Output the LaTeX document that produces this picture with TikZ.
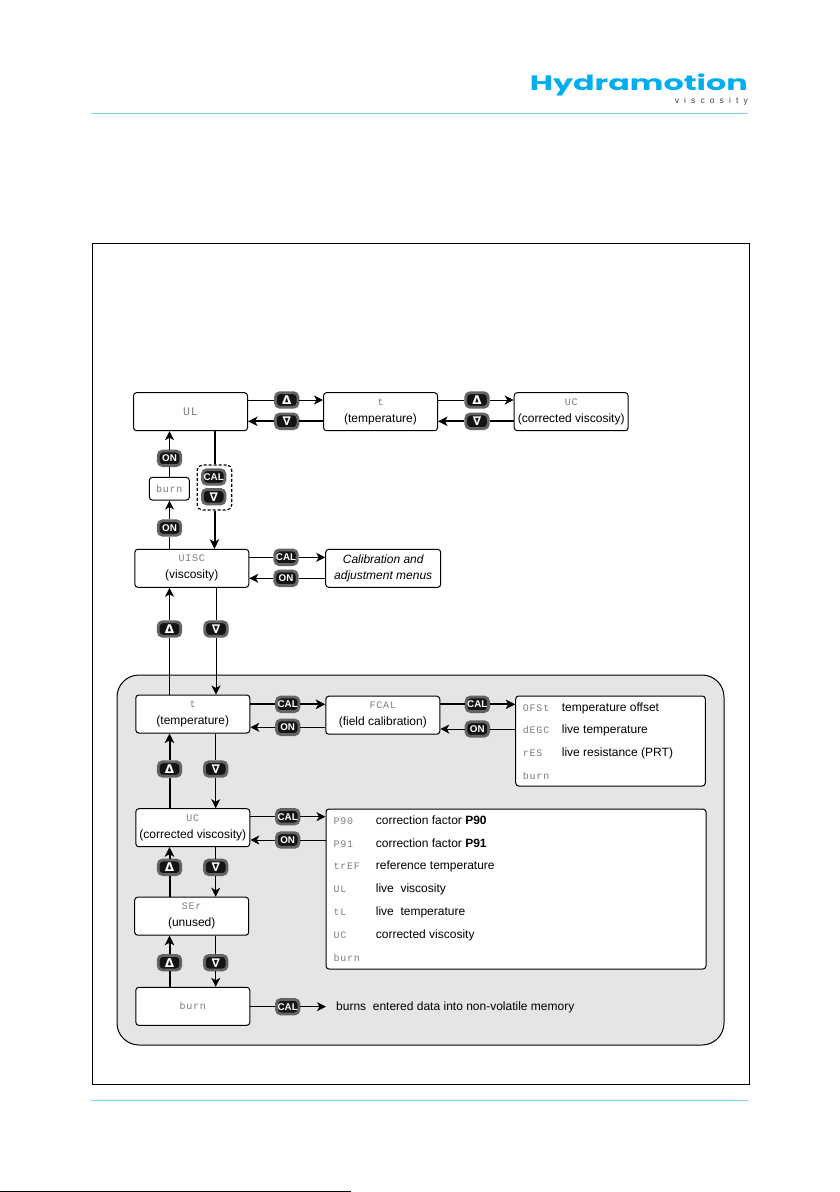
\documentclass[tikz,border=0pt]{standalone}
\usepackage{fontspec}
\setmainfont{Liberation Sans}
\newfontfamily\lcdfont[LetterSpace=8]{Liberation Mono}
\newfontfamily\symfont{DejaVu Sans}
\newfontfamily\logofont{Poppins}
\newfontfamily\subfont[LetterSpace=60]{Liberation Sans}
\usepackage{xcolor}
\usetikzlibrary{arrows.meta}
\definecolor{hydrablue}{RGB}{0,174,239}
\definecolor{rulecol}{RGB}{125,212,246}
\definecolor{panelgray}{RGB}{230,229,228}
\definecolor{lcdgray}{RGB}{125,125,125}
\definecolor{btnring}{RGB}{100,100,100}
\newcommand{\lcd}[1]{{\lcdfont\fontsize{10}{10}\selectfont\color{lcdgray}#1}}
\newcommand{\lcdbig}[1]{{\lcdfont\fontsize{11.5}{11.5}\selectfont\color{lcdgray}#1}}
\newcommand{\tup}{{\symfont\bfseries\fontsize{12}{12}\selectfont Δ}}
\newcommand{\tdown}{{\symfont\bfseries\fontsize{12}{12}\selectfont ∇}}

\begin{document}
\begin{tikzpicture}[x=1pt,y=1pt]
    \tikzstyle{every node}=[font=\fontsize{12}{17}\selectfont,inner sep=0pt]
    \tikzstyle{dispbox}=[draw=black,fill=white,line width=1pt,rounded corners=3pt,align=center,minimum width=114pt,minimum height=38pt]
    \tikzstyle{btn}=[draw=btnring,fill=black!92,line width=2.8pt,rounded corners=4.5pt,text=white,minimum width=22.6pt,minimum height=14.6pt,font=\fontsize{9.8}{9.8}\selectfont\bfseries]
    \tikzstyle{rowtext}=[anchor=west,text height=10.5pt,text depth=2.5pt]
    \tikzstyle{lite}=[line width=1pt,-{Stealth[length=9pt,width=9pt,inset=2.5pt]}]
    \tikzstyle{heavy}=[line width=2pt,-{Stealth[length=9.5pt,width=9.5pt,inset=2.5pt]}]
    \tikzstyle{liteplain}=[line width=1pt]
    \tikzstyle{heavyplain}=[line width=2pt]
    \useasboundingbox (0,0) rectangle (840,-1192);
    \fill [white] (0,0) rectangle (840,-1192);
    \node (logo) at (748,-90) [anchor=base east,text=hydrablue] {\resizebox{218pt}{16.7pt}{\logofont\bfseries Hydramotion}};
    \node (logosub) at (748,-103) [anchor=base east,text=black!75,font=\fontsize{8.5}{8.5}\selectfont] {\subfont viscosity};
    \draw [rulecol,line width=1.6pt] (91,-113.5) -- (748,-113.5);
    \draw [rulecol,line width=1.6pt] (91,-1100.5) -- (748,-1100.5);
    \draw [black,line width=1.3pt] (0,-1191.5) -- (351,-1191.5);
    \node (frame) at (421,-663.5) [draw=black,line width=1pt,minimum width=657pt,minimum height=841pt] {};
    \node (panel) at (420.5,-860) [draw=black,fill=panelgray,line width=1pt,rounded corners=22pt,minimum width=607pt,minimum height=370pt] {};

    \node (ul) at (190.5,-411.7) [dispbox] {\lcdbig{UL}};
    \node (ttop) at (380.5,-411.7) [dispbox] {\lcd{t}\\(temperature)};
    \node (uctop) at (571.2,-411.7) [dispbox] {\lcd{UC}\\(corrected viscosity)};
    \node (burntop) at (169.3,-488.7) [dispbox,minimum width=40pt,minimum height=22.7pt] {\lcd{burn}};
    \node (uisc) at (191.8,-568.3) [dispbox] {\lcd{UISC}\\(viscosity)};
    \node (calmenu) at (383.2,-568.3) [dispbox,font=\fontsize{12}{15.5}\selectfont\itshape,minimum width=115pt] {Calibration and\\adjustment menus};
    \node (tmid) at (192.8,-714) [dispbox] {\lcd{t}\\(temperature)};
    \node (fcal) at (382.8,-715.2) [dispbox] {\lcd{FCAL}\\(field calibration)};
    \node (ucmid) at (192.8,-827.7) [dispbox] {\lcd{UC}\\(corrected viscosity)};
    \node (ser) at (191.7,-916.2) [dispbox] {\lcd{SEr}\\(unused)};
    \node (burnlow) at (192.8,-1006.3) [dispbox] {\lcd{burn}};
    \node (offlist) at (610.5,-741) [dispbox,minimum width=189.6pt,minimum height=90pt] {};
    \node (corrlist) at (516,-889) [dispbox,minimum width=380pt,minimum height=160pt] {};
    \node (calgroup) at (214.5,-487.5) [draw=black,fill=white,line width=1.2pt,densely dashed,rounded corners=5pt,minimum width=34.4pt,minimum height=45pt] {};

    \node (upa) at (286.7,-400) [btn] {\tup};
    \node (downa) at (286.7,-421.3) [btn] {\tdown};
    \node (upb) at (477,-400) [btn] {\tup};
    \node (downb) at (477,-421.3) [btn] {\tdown};
    \node (ona) at (169.5,-458.3) [btn] {ON};
    \node (onb) at (169.5,-528) [btn] {ON};
    \node (calg) at (213.7,-477) [btn] {CAL};
    \node (downg) at (213.7,-496.7) [btn] {\tdown};
    \node (calc) at (286,-557.3) [btn] {CAL};
    \node (onc) at (286,-578.3) [btn] {ON};
    \node (upd) at (169.5,-629) [btn] {\tup};
    \node (downd) at (216,-629) [btn] {\tdown};
    \node (cale) at (287.7,-704.3) [btn] {CAL};
    \node (one) at (287.7,-727.3) [btn] {ON};
    \node (calf) at (477.3,-704.3) [btn] {CAL};
    \node (onf) at (477.3,-729) [btn] {ON};
    \node (upg) at (169.5,-769) [btn] {\tup};
    \node (downh) at (215.7,-769) [btn] {\tdown};
    \node (cali) at (287.7,-816.7) [btn] {CAL};
    \node (oni) at (287.7,-840) [btn] {ON};
    \node (upj) at (169.5,-867.3) [btn] {\tup};
    \node (downj) at (215.7,-867.3) [btn] {\tdown};
    \node (upk) at (169.5,-962.7) [btn] {\tup};
    \node (downk) at (215.7,-962.7) [btn] {\tdown};
    \node (call) at (287.7,-1006.7) [btn] {CAL};
    \node (burnsend) at (336,-1006.4) [rowtext] {burns\ \ entered data into non-volatile memory};
    \coordinate (burnstip) at (326,-1006.7);

    \node (offa) at (522.7,-707.5) [rowtext] {\lcd{OFSt}};
    \node (offat) at (561.7,-707.5) [rowtext] {temperature offset};
    \node (offb) at (522.7,-729.5) [rowtext] {\lcd{dEGC}};
    \node (offbt) at (561.7,-729) [rowtext] {live temperature};
    \node (offc) at (522.7,-752) [rowtext] {\lcd{rES}};
    \node (offct) at (561.7,-752) [rowtext] {live resistance (PRT)};
    \node (offd) at (522.7,-775.5) [rowtext] {\lcd{burn}};

    \node (corra) at (333.3,-820) [rowtext] {\lcd{P90}};
    \node (corrat) at (375.7,-820) [rowtext] {correction factor \textbf{P90}};
    \node (corrb) at (333.3,-843) [rowtext] {\lcd{P91}};
    \node (corrbt) at (375.7,-843) [rowtext] {correction factor \textbf{P91}};
    \node (corrc) at (333.3,-865.7) [rowtext] {\lcd{trEF}};
    \node (corrct) at (375.7,-865.7) [rowtext] {reference temperature};
    \node (corrd) at (333.3,-888.7) [rowtext] {\lcd{UL}};
    \node (corrdt) at (375.7,-888.7) [rowtext] {live\ \ viscosity};
    \node (corre) at (333.3,-911) [rowtext] {\lcd{tL}};
    \node (corret) at (375.7,-911) [rowtext] {live\ \ temperature};
    \node (corrf) at (333.3,-934) [rowtext] {\lcd{UC}};
    \node (corrft) at (375.7,-934) [rowtext] {corrected viscosity};
    \node (corrg) at (333.3,-957) [rowtext] {\lcd{burn}};

    \draw [liteplain] (ul.east |- upa) -- (upa);
    \draw [lite] (upa) -- (ttop.west |- upa);
    \draw [heavyplain] (ttop.west |- downa) -- (downa);
    \draw [heavy] (downa) -- (ul.east |- downa);
    \draw [liteplain] (ttop.east |- upb) -- (upb);
    \draw [lite] (upb) -- (uctop.west |- upb);
    \draw [heavyplain] (uctop.west |- downb) -- (downb);
    \draw [heavy] (downb) -- (ttop.east |- downb);
    \draw [liteplain] (burntop.north -| ona) -- (ona);
    \draw [lite] (ona) -- (ul.south -| ona);
    \draw [liteplain] (uisc.north -| onb) -- (onb);
    \draw [lite] (onb) -- (burntop.south -| onb);
    \draw [heavyplain] (ul.south -| calgroup) -- (calgroup);
    \draw [heavy] (calgroup) -- (uisc.north -| calgroup);
    \draw [liteplain] (uisc.east |- calc) -- (calc);
    \draw [lite] (calc) -- (calmenu.west |- calc);
    \draw [liteplain] (calmenu.west |- onc) -- (onc);
    \draw [lite] (onc) -- (uisc.east |- onc);
    \draw [liteplain] (tmid.north -| upd) -- (upd);
    \draw [lite] (upd) -- (uisc.south -| upd);
    \draw [liteplain] (uisc.south -| downd) -- (downd);
    \draw [lite] (downd) -- (tmid.north -| downd);
    \draw [heavyplain] (tmid.east |- cale) -- (cale);
    \draw [heavy] (cale) -- (fcal.west |- cale);
    \draw [liteplain] (fcal.west |- one) -- (one);
    \draw [lite] (one) -- (tmid.east |- one);
    \draw [heavyplain] (fcal.east |- calf) -- (calf);
    \draw [heavy] (calf) -- (offlist.west |- calf);
    \draw [liteplain] (offlist.west |- onf) -- (onf);
    \draw [lite] (onf) -- (fcal.east |- onf);
    \draw [heavyplain] (ucmid.north -| upg) -- (upg);
    \draw [heavy] (upg) -- (tmid.south -| upg);
    \draw [liteplain] (tmid.south -| downh) -- (downh);
    \draw [lite] (downh) -- (ucmid.north -| downh);
    \draw [liteplain] (ucmid.east |- cali) -- (cali);
    \draw [lite] (cali) -- (corrlist.west |- cali);
    \draw [liteplain] (corrlist.west |- oni) -- (oni);
    \draw [lite] (oni) -- (ucmid.east |- oni);
    \draw [heavyplain] (ser.north -| upj) -- (upj);
    \draw [heavy] (upj) -- (ucmid.south -| upj);
    \draw [liteplain] (ucmid.south -| downj) -- (downj);
    \draw [lite] (downj) -- (ser.north -| downj);
    \draw [heavyplain] (burnlow.north -| upk) -- (upk);
    \draw [heavy] (upk) -- (ser.south -| upk);
    \draw [liteplain] (ser.south -| downk) -- (downk);
    \draw [lite] (downk) -- (burnlow.north -| downk);
    \draw [liteplain] (burnlow.east |- call) -- (call);
    \draw [lite] (call) -- (burnstip);
\end{tikzpicture}
\end{document}
